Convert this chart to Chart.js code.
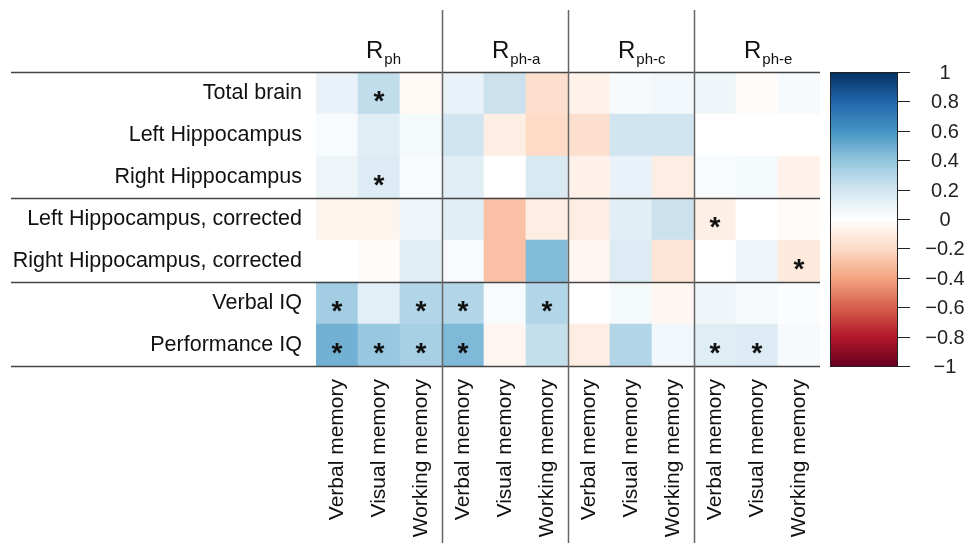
<!DOCTYPE html>
<html>
<head>
<meta charset="utf-8">
<script src="https://cdn.jsdelivr.net/npm/chart.js@4.4.1/dist/chart.umd.min.js"></script>
<style>
  html, body { margin: 0; padding: 0; background: #fff; }
  #wrap { width: 968px; height: 543px; position: relative; }
</style>
</head>
<body>
<div id="wrap"><canvas id="heat"></canvas></div>
<script>
// columns: 3 memory scores for each of 4 estimates
const memoryLabels = ['Verbal memory', 'Visual memory', 'Working memory'];
const groupSubs = ['ph', 'ph-a', 'ph-c', 'ph-e'];
const colLabels = groupSubs.flatMap(() => memoryLabels);

// rows, top to bottom
const rowLabels = ['Total brain', 'Left Hippocampus', 'Right Hippocampus',
  'Left Hippocampus, corrected', 'Right Hippocampus, corrected', 'Verbal IQ', 'Performance IQ'];
const rowBreaks = [3, 5]; // horizontal rules after these rows

// correlation values
const totalBrain     = [0.10, 0.25, -0.04, 0.10, 0.22, -0.18, -0.07, 0.04, 0.06, 0.07, -0.02, 0.04];
const leftHippo      = [0.03, 0.14, 0.05, 0.20, -0.10, -0.20, -0.18, 0.20, 0.20, 0.00, 0.00, 0.00];
const rightHippo     = [0.08, 0.15, 0.03, 0.13, 0.00, 0.17, -0.08, 0.10, -0.10, 0.03, 0.05, -0.07];
const leftHippoCorr  = [-0.06, -0.06, 0.08, 0.13, -0.30, -0.10, -0.10, 0.13, 0.22, -0.09, 0.00, -0.02];
const rightHippoCorr = [0.00, -0.02, 0.13, 0.03, -0.30, 0.44, -0.05, 0.15, -0.15, 0.00, 0.07, -0.12];
const verbalIQ       = [0.35, 0.12, 0.30, 0.30, 0.03, 0.30, 0.00, 0.05, -0.05, 0.07, 0.04, 0.02];
const performanceIQ  = [0.48, 0.38, 0.33, 0.45, -0.05, 0.24, -0.10, 0.30, 0.06, 0.14, 0.15, 0.04];
const rowValues = [totalBrain, leftHippo, rightHippo, leftHippoCorr, rightHippoCorr, verbalIQ, performanceIQ];

// significance stars (1 = marked)
const starTotalBrain     = [0, 1, 0, 0, 0, 0, 0, 0, 0, 0, 0, 0];
const starLeftHippo      = [0, 0, 0, 0, 0, 0, 0, 0, 0, 0, 0, 0];
const starRightHippo     = [0, 1, 0, 0, 0, 0, 0, 0, 0, 0, 0, 0];
const starLeftHippoCorr  = [0, 0, 0, 0, 0, 0, 0, 0, 0, 1, 0, 0];
const starRightHippoCorr = [0, 0, 0, 0, 0, 0, 0, 0, 0, 0, 0, 1];
const starVerbalIQ       = [1, 0, 1, 1, 0, 1, 0, 0, 0, 0, 0, 0];
const starPerformanceIQ  = [1, 1, 1, 1, 0, 0, 0, 0, 0, 1, 1, 0];
const rowStars = [starTotalBrain, starLeftHippo, starRightHippo, starLeftHippoCorr,
  starRightHippoCorr, starVerbalIQ, starPerformanceIQ];

const colorbarTicks = [1, 0.8, 0.6, 0.4, 0.2, 0, -0.2, -0.4, -0.6, -0.8, -1];

// RdBu palette like corrplot
const rdbu = ['#67001F', '#B2182B', '#D6604D', '#F4A582', '#FDDBC7', '#FFFFFF',
  '#D1E5F0', '#92C5DE', '#4393C3', '#2166AC', '#053061'];

function hexRgb(h) {
  return [parseInt(h.slice(1, 3), 16), parseInt(h.slice(3, 5), 16), parseInt(h.slice(5, 7), 16)];
}
function corrColor(v) {
  const t = (Math.max(-1, Math.min(1, v)) + 1) / 2 * (rdbu.length - 1);
  const i = Math.min(Math.floor(t), rdbu.length - 2);
  const f = t - i;
  const a = hexRgb(rdbu[i]), b = hexRgb(rdbu[i + 1]);
  const c = a.map((x, k) => Math.round(x + (b[k] - x) * f));
  return `rgb(${c[0]},${c[1]},${c[2]})`;
}

const FONT = "'Liberation Sans', Arial, sans-serif";
const nRows = rowLabels.length;

// stacked bars: dataset 0 is the bottom row
const datasets = rowValues.slice().reverse().map((vals, i) => ({
  label: rowLabels[nRows - 1 - i],
  data: vals.map(() => 1),
  corr: vals,
  stars: rowStars[nRows - 1 - i],
  backgroundColor: vals.map(corrColor),
  borderWidth: 0,
  barPercentage: 1,
  categoryPercentage: 1,
  stack: 'cells'
}));

const decorPlugin = {
  id: 'decor',
  afterDatasetsDraw(chart) {
    const ctx = chart.ctx;
    const x = chart.scales.x, y = chart.scales.y, cb = chart.scales.cb;
    const area = chart.chartArea;
    ctx.save();

    // stars
    ctx.fillStyle = '#111';
    ctx.font = `bold 28px ${FONT}`;
    ctx.textAlign = 'center';
    ctx.textBaseline = 'alphabetic';
    chart.data.datasets.forEach((ds, di) => {
      const meta = chart.getDatasetMeta(di);
      meta.data.forEach((bar, j) => {
        if (!ds.stars[j]) return;
        const c = bar.getCenterPoint();
        ctx.fillText('*', c.x, c.y + 17);
      });
    });

    // horizontal rules
    ctx.strokeStyle = '#444';
    ctx.lineWidth = 1.5;
    [0, ...rowBreaks, nRows].forEach(r => {
      const py = Math.round(y.getPixelForValue(nRows - r)) + 0.5;
      ctx.beginPath();
      ctx.moveTo(11, py);
      ctx.lineTo(area.right, py);
      ctx.stroke();
    });

    // vertical group rules
    ctx.strokeStyle = '#666';
    for (let g = 1; g < groupSubs.length; g++) {
      const px = Math.round(x.getPixelForValue(g * 3 - 0.5)) + 0.5;
      ctx.beginPath();
      ctx.moveTo(px, 10);
      ctx.lineTo(px, chart.height);
      ctx.stroke();
    }

    // group headers R_sub
    ctx.fillStyle = '#111';
    ctx.textAlign = 'left';
    groupSubs.forEach((sub, g) => {
      const cx = x.getPixelForValue(g * 3 + 1);
      ctx.font = `24px ${FONT}`;
      const rx = cx - 13;
      ctx.fillText('R', rx, 58);
      const rw = ctx.measureText('R').width;
      ctx.font = `15px ${FONT}`;
      ctx.fillText(sub, rx + rw + 1, 64);
    });

    // colour bar
    const bx0 = 830, bx1 = 897;
    const top = cb.getPixelForValue(1), bot = cb.getPixelForValue(-1);
    const grad = ctx.createLinearGradient(0, bot, 0, top);
    rdbu.forEach((c, i) => grad.addColorStop(i / (rdbu.length - 1), c));
    ctx.fillStyle = grad;
    ctx.fillRect(bx0, top, bx1 - bx0, bot - top);
    ctx.strokeStyle = '#222';
    ctx.lineWidth = 1;
    ctx.strokeRect(bx0 + 0.5, Math.round(top) + 0.5, bx1 - bx0, Math.round(bot - top));
    ctx.font = `20px ${FONT}`;
    ctx.textAlign = 'center';
    ctx.textBaseline = 'middle';
    ctx.fillStyle = '#222';
    colorbarTicks.forEach(v => {
      const py = Math.round(cb.getPixelForValue(v)) + 0.5;
      ctx.beginPath();
      ctx.moveTo(bx1, py);
      ctx.lineTo(bx1 + 13, py);
      ctx.stroke();
      const txt = v < 0 ? '\u2212' + String(-v) : String(v);
      ctx.fillText(txt, 945, py + 1);
    });

    ctx.restore();
  }
};

new Chart(document.getElementById('heat'), {
  type: 'bar',
  data: { labels: colLabels, datasets: datasets },
  options: {
    responsive: true,
    maintainAspectRatio: false,
    animation: false,
    layout: { padding: { top: 72, right: 148, left: 0, bottom: 0 } },
    plugins: { legend: { display: false }, tooltip: { enabled: false } },
    scales: {
      x: {
        stacked: true,
        grid: { display: false, drawTicks: false },
        border: { display: false },
        ticks: {
          autoSkip: false, minRotation: 90, maxRotation: 90, padding: 13,
          color: '#111', font: { family: FONT, size: 21 }
        },
        afterFit(scale) { scale.height = 177; }
      },
      y: {
        stacked: true,
        min: 0, max: nRows,
        grid: { display: false, drawTicks: false },
        border: { display: false },
        afterBuildTicks(scale) {
          scale.ticks = rowLabels.map((_, i) => ({ value: i + 0.5 }));
        },
        ticks: {
          padding: 14, color: '#111', font: { family: FONT, size: 21.5 },
          callback: (v) => rowLabels[nRows - 1 - Math.floor(v)]
        },
        afterFit(scale) { scale.width = 316; }
      },
      cb: {
        type: 'linear', display: false, min: -1, max: 1, position: 'right'
      }
    }
  },
  plugins: [decorPlugin]
});
</script>
</body>
</html>
